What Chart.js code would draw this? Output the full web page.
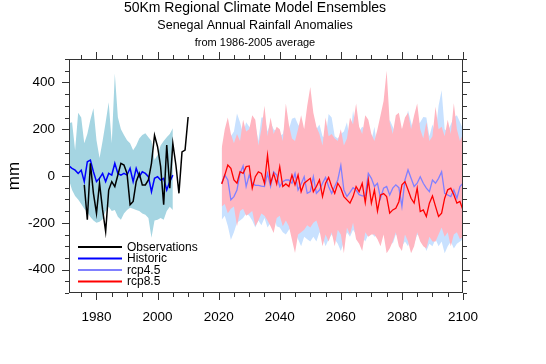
<!DOCTYPE html>
<html>
<head>
<meta charset="utf-8">
<script src="https://cdn.jsdelivr.net/npm/chart.js@4.4.1/dist/chart.umd.min.js"></script>
<style>
  html, body { margin: 0; padding: 0; background: #fff; }
  #caja { position: relative; width: 546px; height: 364px; }
</style>
</head>
<body>
<div id="caja"><canvas id="grafica"></canvas></div>
<script>
// === TEXTOS ===
const titulos = ["50Km Regional Climate Model Ensembles", "Senegal Annual Rainfall Anomalies", "from 1986-2005 average"];
const tituloY = "mm";
const etiquetasLeyenda = ["Observations", "Historic", "rcp4.5", "rcp8.5"];
const coloresLeyenda = ["#000000", "#0000ff", "#8080ff", "#ff0000"];

// === AÑOS DE INICIO ===
const inicioHist = 1971;   // simulación histórica 1971-2005
const inicioObs = 1976;    // observaciones 1976-2010
const inicioFut = 2021;    // escenarios 2021-2100

// === HISTÓRICO (mm) ===
const histAlto = [225, 230, 110, 270, 250, 140, 180, 240, 289, 153,
                  77, 150, 230, 315, 140, 438, 251, 200, 175, 153,
                  140, 110, 130, 160, 175, 183, 166, 150, 68, 90,
                  130, 150, 166, 180, 204];
const histBajo = [-17, -60, -85, -100, -120, -140, -155, -175, -190, -200,
                  -195, -185, -150, -131, -150, -145, -174, -187, -160, -145,
                  -136, -140, -145, -150, -160, -166, -180, -264, -190, -187,
                  -180, -187, -150, -131, -145];
const histMedia = [43, 33, 25, 11, 25, -24, 61, 68, 18, -24,
                   -10, 11, -24, 11, 4, 54, 11, 4, 11, 4,
                   33, -24, 33, -3, 18, 11, -3, -67, -10, -3,
                   -17, -10, -60, -24, 4];

// === OBSERVACIONES ===
const observaciones = [-38, -187, 54, -74, -159, -31, -145, -237, -60, -24,
                       -45, 4, 54, 47, 11, -123, -109, -24, 11, -38,
                       -38, -17, 54, 174, 125, 40, -123, 132, -52, 139,
                       47, -74, 103, 111, 252];

// === RCP4.5 ===
const rcp45Alto = [118, 150, 130, 170, 190, 267, 230, 180, 230, 210,
                   200, 220, 150, 250, 250, 190, 230, 200, 190, 170,
                   180, 230, 200, 245, 250, 220, 200, 190, 252, 230,
                   260, 200, 220, 170, 160, 265, 250, 170, 160, 180,
                   190, 230, 150, 280, 200, 190, 210, 200, 230, 150,
                   210, 110, 220, 240, 200, 240, 210, 180, 220, 200,
                   210, 280, 230, 180, 220, 230, 252, 250, 170, 220,
                   180, 300, 366, 200, 190, 220, 250, 260, 231, 200];
const rcp45Bajo = [-187, -170, -214, -272, -240, -200, -190, -180, -160, -170,
                   -190, -220, -190, -210, -180, -220, -200, -170, -215, -220,
                   -240, -250, -230, -220, -240, -270, -300, -260, -270, -280,
                   -260, -280, -240, -260, -300, -270, -250, -270, -290, -320,
                   -280, -240, -260, -230, -250, -270, -260, -280, -250, -240,
                   -260, -250, -280, -240, -270, -260, -290, -250, -260, -300,
                   -280, -300, -260, -290, -250, -260, -280, -320, -290, -300,
                   -270, -300, -280, -330, -300, -280, -310, -290, -280, -270];
const rcp45Media = [-31, 4, -17, -102, -88, -60, 11, 43, -45, 4,
                    -31, -40, -40, -43, -45, 11, -45, 18, 4, -45,
                    -24, -17, -17, -31, 11, -60, -34, -3, -74, -67,
                    -3, -74, -60, -31, -6, -45, -74, -45, -17, 45,
                    -60, -88, -70, -50, -60, -80, -85, -85, 11, -10,
                    -45, -31, -95, -52, -45, -81, -52, -38, -50, -130,
                    -17, 26, -10, -45, -31, -3, -31, -52, -67, -17,
                    -31, -10, 18, -74, -81, -88, -60, -95, -45, -31];

// === RCP8.5 ===
const rcp85Alto = [120, 200, 250, 180, 140, 180, 150, 240, 190, 200,
                   260, 240, 130, 200, 300, 170, 250, 180, 210, 200,
                   150, 310, 220, 160, 150, 200, 260, 200, 300, 380,
                   270, 210, 180, 130, 250, 170, 180, 160, 150, 200,
                   130, 160, 250, 220, 310, 210, 180, 260, 240, 180,
                   150, 200, 260, 320, 450, 230, 180, 260, 270, 200,
                   250, 270, 200, 260, 310, 200, 160, 230, 150, 170,
                   296, 200, 210, 170, 240, 180, 311, 200, 150, 180];
const rcp85Bajo = [-130, -120, -159, -140, -130, -215, -150, -140, -170, -160,
                   -150, -215, -190, -160, -170, -190, -215, -244, -180, -170,
                   -215, -190, -215, -272, -329, -250, -240, -230, -210, -220,
                   -200, -190, -230, -300, -250, -280, -240, -300, -230, -250,
                   -330, -220, -250, -200, -270, -290, -320, -240, -260, -250,
                   -250, -270, -300, -250, -330, -310, -280, -240, -300, -320,
                   -250, -280, -330, -300, -240, -280, -300, -310, -260, -280,
                   -280, -250, -220, -260, -240, -300, -250, -240, -270, -260];
const rcp85Media = [-34, 4, 47, 33, -17, -31, 18, 11, 40, 43,
                    -52, -3, 18, 11, -31, 89, -31, 11, -34, 40,
                    -45, -34, -45, 4, -38, 4, -67, -31, -20, -10,
                    -67, -45, -17, -88, -31, -6, -45, -74, -31, -52,
                    -88, -102, -116, -88, -45, -67, -31, -113, -17, -116,
                    -60, -150, -81, -75, -88, -159, -145, -138, -110, -38,
                    -24, -59, -95, -116, -52, -152, -145, -173, -116, -85,
                    -130, -173, -159, -95, -59, -52, -80, -116, -109, -145];

const familia = "'Liberation Sans', Arial, Helvetica, sans-serif";

// convierte una serie anual en puntos {x, y}
function puntos(inicio, valores) {
  return valores.map((v, i) => ({ x: inicio + i, y: v }));
}

// banda sombreada: dataset alto (rellena hasta el siguiente) + dataset bajo
function banda(inicio, alto, bajo, color, orden) {
  return [
    { data: puntos(inicio, alto), borderWidth: 0, pointRadius: 0, backgroundColor: color, fill: "+1", order: orden },
    { data: puntos(inicio, bajo), borderWidth: 0, pointRadius: 0, fill: false, order: orden }
  ];
}

function linea(inicio, valores, color, ancho, orden) {
  return { data: puntos(inicio, valores), borderColor: color, borderWidth: ancho, pointRadius: 0, fill: false, tension: 0, order: orden };
}

// === MARCO, MARCAS, LEYENDA Y TÍTULOS ===
const decoracion = {
  id: "decoracion",
  afterDraw(chart) {
    const { ctx, chartArea: a, scales } = chart;
    const sx = scales.x, sy = scales.y;
    ctx.save();

    // marco
    ctx.strokeStyle = "#333";
    ctx.lineWidth = 1;
    ctx.strokeRect(a.left + 0.5, a.top + 0.5, a.width - 1, a.height - 1);

    // marcas hacia fuera en los cuatro lados
    ctx.beginPath();
    for (let v = 1975; v <= 2100; v += 5) {
      const px = Math.round(sx.getPixelForValue(v)) + 0.5;
      const l = v % 20 === 0 ? 7 : 4;
      ctx.moveTo(px, a.bottom); ctx.lineTo(px, a.bottom + l);
      ctx.moveTo(px, a.top); ctx.lineTo(px, a.top - l);
    }
    for (let v = -500; v <= 500; v += 50) {
      const py = Math.round(sy.getPixelForValue(v)) + 0.5;
      const l = v % 200 === 0 ? 7 : 4;
      ctx.moveTo(a.left, py); ctx.lineTo(a.left - l, py);
      ctx.moveTo(a.right, py); ctx.lineTo(a.right + l, py);
    }
    ctx.stroke();

    // leyenda dentro del área
    ctx.font = "12px " + familia;
    ctx.textBaseline = "middle";
    ctx.textAlign = "left";
    ctx.fillStyle = "#000";
    etiquetasLeyenda.forEach((t, i) => {
      const yy = a.top + 188 + i * 11.5;
      ctx.strokeStyle = coloresLeyenda[i];
      ctx.lineWidth = 2;
      ctx.beginPath();
      ctx.moveTo(a.left + 9, yy);
      ctx.lineTo(a.left + 53, yy);
      ctx.stroke();
      ctx.fillText(t, a.left + 58, yy + 0.5);
    });

    // títulos
    ctx.textAlign = "center";
    ctx.textBaseline = "alphabetic";
    ctx.font = "14px " + familia;
    ctx.fillText(titulos[0], 255, 11.5);
    ctx.font = "12.5px " + familia;
    ctx.fillText(titulos[1], 255, 28.5);
    ctx.font = "11px " + familia;
    ctx.fillText(titulos[2], 255, 46);

    ctx.restore();
  }
};

const ctx = document.getElementById("grafica").getContext("2d");

new Chart(ctx, {
  type: "line",
  data: {
    datasets: [
      linea(inicioObs, observaciones, "#000000", 1.5, 0),
      linea(inicioFut, rcp85Media, "#ff0000", 1.3, 1),
      linea(inicioFut, rcp45Media, "#8080ff", 1.3, 2),
      linea(inicioHist, histMedia, "#0000ff", 1.5, 3),
      ...banda(inicioHist, histAlto, histBajo, "rgb(165,213,226)", 10),
      ...banda(inicioFut, rcp85Alto, rcp85Bajo, "rgb(255,182,193)", 11),
      ...banda(inicioFut, rcp45Alto, rcp45Bajo, "rgb(200,225,255)", 12)
    ]
  },
  options: {
    responsive: true,
    maintainAspectRatio: false,
    animation: false,
    layout: { padding: { top: 59, right: 83, left: 0, bottom: 0 } },
    plugins: {
      legend: { display: false },
      tooltip: { enabled: false },
      title: { display: false }
    },
    scales: {
      x: {
        type: "linear",
        min: 1971,
        max: 2100,
        afterFit: s => { s.height = 71; },
        grid: { display: false, drawTicks: false },
        border: { display: false },
        ticks: {
          stepSize: 20,
          includeBounds: false,
          autoSkip: false,
          maxRotation: 0,
          padding: 16,
          color: "#000",
          font: { family: familia, size: 13.5 },
          callback: v => (v % 20 === 0 ? String(v) : "")
        }
      },
      y: {
        min: -500,
        max: 500,
        afterFit: s => { s.width = 69; },
        grid: { display: false, drawTicks: false },
        border: { display: false },
        title: { display: true, text: tituloY, color: "#000", font: { family: familia, size: 17 }, padding: { top: 4, bottom: 0 } },
        ticks: {
          stepSize: 100,
          autoSkip: false,
          padding: 14,
          color: "#000",
          font: { family: familia, size: 13.5 },
          callback: v => (v % 200 === 0 && Math.abs(v) < 500 ? String(v) : "")
        }
      }
    }
  },
  plugins: [decoracion]
});
</script>
</body>
</html>
